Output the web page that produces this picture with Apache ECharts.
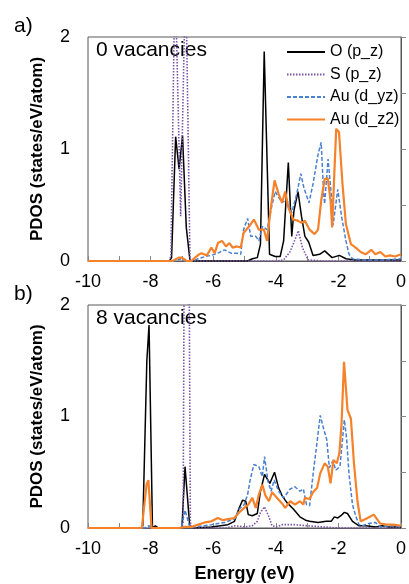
<!DOCTYPE html>
<html>
<head>
<meta charset="utf-8">
<script src="https://cdn.jsdelivr.net/npm/echarts@6/dist/echarts.min.js"></script>
<style>
	html, body {margin:0; padding:0; background:#fff;}
	#main {width:409px; height:584px;}
</style>
</head>
<body>
<div id="main"></div>
<script>
// tick labels
var xTicks = [-10, -8, -6, -4, -2, 0];
var yTicks = [0, 1, 2];
var seriesNames = ['O (p_z)', 'S (p_z)', 'Au (d_yz)', 'Au (d_z2)'];
var panelTitles = ['0 vacancies', '8 vacancies'];

// a) 0 vacancies  [energy, pdos]
var oA = [[-10,0],[-7.4,0],[-7.33,0.03],[-7.2,1.11],[-7.09,0.82],[-6.98,1.12],[-6.86,0.3],[-6.74,0],[-4.9,0],[-4.75,0.02],[-4.59,0.03],[-4.49,0.15],[-4.37,1.87],[-4.2,0.06],[-4.02,0.04],[-3.86,0.04],[-3.75,0.18],[-3.6,0.88],[-3.49,0.22],[-3.42,0.45],[-3.29,0.62],[-3.18,0.4],[-3.07,0.22],[-2.95,0.17],[-2.81,0.05],[-2.6,0.06],[-2.44,0.09],[-2.2,0.03],[-1.97,0.05],[-1.76,0.02],[-1.5,0.01],[0,0.01]];
var sA = [[-10,0],[-7.4,0],[-7.35,0.05],[-7.22,2.6],[-7.04,0.4],[-6.88,2.6],[-6.74,0],[-4,0],[-3.75,0.01],[-3.55,0.08],[-3.43,0.16],[-3.28,0.27],[-3.15,0.12],[-2.97,0.01],[-2.5,0],[0,0]];
var dyzA = [[-10,0],[-7.2,0],[-7.05,0.02],[-6.9,0],[-6.65,0],[-6.48,0.02],[-6.25,0.04],[-6.06,0.05],[-5.85,0.07],[-5.64,0.1],[-5.43,0.07],[-5.25,0.07],[-5.12,0.06],[-5.03,0.28],[-4.9,0.38],[-4.8,0.22],[-4.64,0.22],[-4.54,0.18],[-4.43,0.31],[-4.28,0.28],[-4.12,0.5],[-4.02,0.62],[-3.91,0.57],[-3.8,0.52],[-3.65,0.55],[-3.49,0.43],[-3.33,0.6],[-3.2,0.78],[-3.1,0.65],[-2.94,0.52],[-2.81,0.69],[-2.65,0.95],[-2.55,1.06],[-2.47,0.6],[-2.44,0.51],[-2.33,0.91],[-2.23,0.6],[-2.17,0.32],[-2.02,0.64],[-1.9,0.4],[-1.76,0.18],[-1.66,0.06],[-1.55,0.02],[-1.2,0.01],[-0.5,0.01],[0,0.02]];
var dz2A = [[-10,0],[-7.3,0],[-7.1,0.03],[-7.0,0.03],[-6.85,0],[-6.7,0],[-6.58,0.03],[-6.45,0.06],[-6.37,0.07],[-6.2,0.05],[-6.06,0.12],[-5.95,0.07],[-5.85,0.16],[-5.72,0.18],[-5.59,0.13],[-5.48,0.16],[-5.38,0.12],[-5.24,0.13],[-5.12,0.12],[-5.03,0.25],[-4.85,0.31],[-4.7,0.37],[-4.54,0.28],[-4.38,0.28],[-4.28,0.18],[-4.17,0.45],[-4.04,0.72],[-3.91,0.6],[-3.8,0.52],[-3.7,0.62],[-3.6,0.48],[-3.44,0.37],[-3.3,0.36],[-3.18,0.34],[-3.07,0.36],[-2.92,0.28],[-2.76,0.24],[-2.65,0.28],[-2.55,0.54],[-2.44,0.73],[-2.34,0.74],[-2.25,0.54],[-2.2,0.3],[-2.13,0.78],[-2.07,1.18],[-1.98,1.15],[-1.87,0.69],[-1.76,0.33],[-1.6,0.15],[-1.45,0.12],[-1.29,0.08],[-1.13,0.06],[-0.95,0.1],[-0.82,0.06],[-0.66,0.08],[-0.5,0.04],[-0.35,0.05],[-0.19,0.04],[0,0.06]];

// b) 8 vacancies
var oB = [[-10,0],[-8.3,0],[-8.25,0.02],[-8.12,1.5],[-8.05,1.82],[-7.94,0],[-7.85,0.02],[-7.75,0],[-7.0,0],[-6.9,0.55],[-6.75,0.02],[-6.64,0],[-6.06,0.01],[-5.53,0.03],[-5.32,0.06],[-5.17,0.18],[-5.06,0.25],[-4.96,0.24],[-4.88,0.12],[-4.75,0.11],[-4.59,0.13],[-4.49,0.33],[-4.36,0.48],[-4.19,0.4],[-4.04,0.5],[-3.91,0.36],[-3.8,0.29],[-3.65,0.23],[-3.44,0.17],[-3.23,0.1],[-3.05,0.07],[-2.92,0.06],[-2.65,0.05],[-2.39,0.06],[-2.23,0.06],[-2.13,0.1],[-2.02,0.09],[-1.92,0.11],[-1.81,0.14],[-1.71,0.13],[-1.55,0.06],[-1.34,0.02],[-1.13,0.02],[-0.8,0.01],[-0.6,0.02],[-0.4,0.01],[0,0.01]];
var sB = [[-10,0],[-7.0,0],[-6.96,0.05],[-6.92,3],[-6.78,3],[-6.73,0.05],[-6.68,0],[-5.6,0],[-5.3,0.02],[-5.0,0.01],[-4.75,0.02],[-4.59,0.06],[-4.49,0.14],[-4.36,0.19],[-4.22,0.1],[-4.12,0.02],[-3.96,0.01],[-3.8,0.03],[-3.4,0.03],[-3.0,0.02],[-2.5,0.01],[-2,0],[0,0]];
var dyzB = [[-10,0],[-8.2,0],[-8.05,0.02],[-7.95,0],[-7.02,0],[-6.9,0.16],[-6.75,0.01],[-6.58,0.01],[-6.06,0.03],[-5.64,0.05],[-5.32,0.08],[-5.17,0.17],[-5.01,0.21],[-4.9,0.3],[-4.82,0.43],[-4.7,0.57],[-4.54,0.55],[-4.43,0.46],[-4.36,0.64],[-4.25,0.42],[-4.15,0.33],[-4.05,0.43],[-3.91,0.33],[-3.75,0.27],[-3.54,0.35],[-3.39,0.37],[-3.23,0.33],[-3.12,0.35],[-3.02,0.21],[-2.92,0.2],[-2.81,0.48],[-2.7,0.73],[-2.58,1.01],[-2.49,0.91],[-2.37,0.79],[-2.29,0.54],[-2.18,0.6],[-2.08,0.52],[-1.95,0.55],[-1.87,0.79],[-1.81,0.97],[-1.74,0.81],[-1.66,0.48],[-1.55,0.21],[-1.45,0.11],[-1.34,0.03],[-1.24,0.02],[-1.03,0.04],[-0.82,0.05],[-0.66,0.01],[-0.3,0.02],[0,0.01]];
var dz2B = [[-10,0],[-8.28,0],[-8.13,0.39],[-8.07,0.43],[-7.97,0],[-7.1,0],[-6.9,0.01],[-6.69,0.01],[-6.48,0.03],[-6.27,0.05],[-6.06,0.06],[-5.85,0.09],[-5.69,0.07],[-5.53,0.08],[-5.32,0.09],[-5.17,0.14],[-5.01,0.18],[-4.88,0.21],[-4.75,0.27],[-4.64,0.18],[-4.54,0.3],[-4.43,0.39],[-4.33,0.29],[-4.22,0.24],[-4.12,0.32],[-3.96,0.27],[-3.8,0.22],[-3.7,0.18],[-3.54,0.24],[-3.39,0.21],[-3.23,0.24],[-3.12,0.21],[-3.07,0.27],[-2.92,0.26],[-2.81,0.32],[-2.68,0.36],[-2.58,0.49],[-2.44,0.58],[-2.34,0.55],[-2.25,0.4],[-2.16,0.61],[-2.05,0.58],[-1.97,0.67],[-1.9,0.93],[-1.82,1.49],[-1.71,1.06],[-1.6,0.98],[-1.5,0.57],[-1.39,0.24],[-1.29,0.06],[-1.13,0.08],[-0.87,0.12],[-0.66,0.04],[-0.45,0.03],[-0.24,0.03],[0,0.02]];

var FONT = '"Liberation Sans", Arial, sans-serif';
var styles = [
	{color:'#000000', width:1.5, type:'solid'},
	{color:'#7a55a8', width:1.6, type:[1.5, 1.5]},
	{color:'#4a80cf', width:1.5, type:[4, 2]},
	{color:'#f5822a', width:2.2, type:'solid'}
];

init();
function init(){
	var myChart = echarts.init(document.getElementById('main'));
	var panels = [[oA, sA, dyzA, dz2A], [oB, sB, dyzB, dz2B]];
	var grids = [
		{left:88, top:37, width:318, height:224},
		{left:88, top:305, width:318, height:223}
	];

	var xAxes = [], yAxes = [], series = [];
	for (var p = 0; p < 2; p++) {
		grids[p].show = true;
		grids[p].borderColor = '#595959';
		grids[p].borderWidth = 1;
		xAxes.push({
			type:'value', gridIndex:p, min:xTicks[0], max:xTicks[xTicks.length-1], interval:1,
			name: p === 1 ? 'Energy (eV)' : '', nameLocation:'middle', nameGap:37,
			nameTextStyle:{fontFamily:FONT, fontSize:18, fontWeight:'bold', color:'#000'},
			axisLine:{lineStyle:{color:'#595959'}},
			axisTick:{inside:true, length:5, lineStyle:{color:'#888'}},
			splitLine:{show:false},
			axisLabel:{
				margin:12, fontFamily:FONT, fontSize:18, color:'#000',
				formatter:function(v){ return xTicks.indexOf(v) >= 0 ? String(v) : ''; }
			}
		});
		yAxes.push({
			type:'value', gridIndex:p, min:0, max:yTicks[yTicks.length-1], interval:0.5,
			name:'PDOS (states/eV/atom)', nameLocation:'middle', nameGap:42,
			nameTextStyle:{fontFamily:FONT, fontSize:17, fontWeight:'bold', color:'#000'},
			axisLine:{show:true, lineStyle:{color:'#595959'}},
			axisTick:{inside:true, length:5, lineStyle:{color:'#888'}},
			splitLine:{show:false},
			axisLabel:{
				margin:18, fontFamily:FONT, fontSize:18, color:'#000',
				formatter:function(v){ return yTicks.indexOf(v) >= 0 ? String(v) : ''; }
			}
		});
		for (var i = 0; i < 4; i++) {
			series.push({
				name:seriesNames[i], type:'line', xAxisIndex:p, yAxisIndex:p,
				data:panels[p][i], symbol:'none', animation:false,
				lineStyle:{color:styles[i].color, width:styles[i].width, type:styles[i].type},
				itemStyle:{color:styles[i].color},
				z:2 + i
			});
		}
	}

	var option = {
		backgroundColor:'#fff',
		animation:false,
		grid:grids,
		xAxis:xAxes,
		yAxis:yAxes,
		legend:{
			data:seriesNames, orient:'vertical', left:286, top:44,
			itemWidth:38, itemHeight:14, itemGap:6.5, padding:0,
			itemStyle:{color:'transparent', borderColor:'transparent', borderWidth:0, opacity:0},
			textStyle:{fontFamily:FONT, fontSize:16, color:'#000'}
		},
		graphic:[
			{type:'text', left:14, top:16, style:{text:'a)', font:'21px ' + FONT, fill:'#000'}},
			{type:'text', left:14, top:284, style:{text:'b)', font:'21px ' + FONT, fill:'#000'}},
			{type:'text', left:96, top:40, style:{text:panelTitles[0], font:'21px ' + FONT, fill:'#000'}},
			{type:'text', left:96, top:308, style:{text:panelTitles[1], font:'21px ' + FONT, fill:'#000'}}
		],
		series:series
	};
	myChart.setOption(option);
}
</script>
</body>
</html>
